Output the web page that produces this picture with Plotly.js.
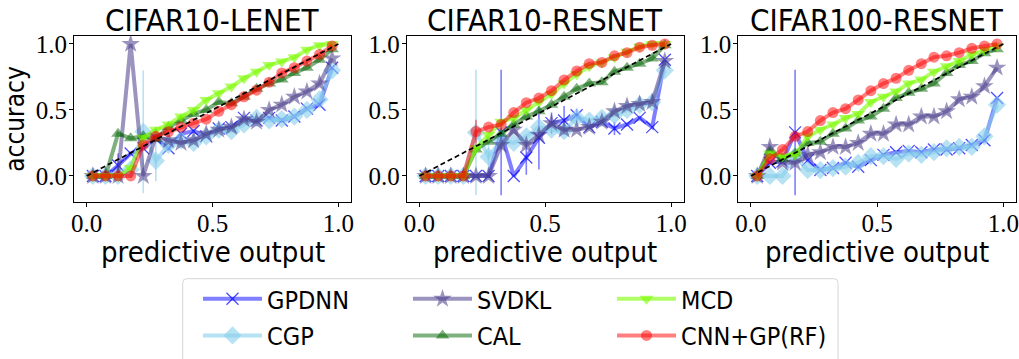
<!DOCTYPE html>
<html>
<head>
<meta charset="utf-8">
<script src="https://cdn.plot.ly/plotly-3.0.1.min.js"></script>
<style>html,body{margin:0;padding:0;background:#fff;}#chart{width:1019px;height:359px;}</style>
</head>
<body>
<div id="chart"></div>
<script>
// ---------- data ----------
var binCenters = [0.025,0.075,0.125,0.175,0.225,0.275,0.325,0.375,0.425,0.475,0.525,0.575,0.625,0.675,0.725,0.775,0.825,0.875,0.925,0.975];
var panelTitles = ['CIFAR10-LENET','CIFAR10-RESNET','CIFAR100-RESNET'];
var seriesNames = ['GPDNN','CGP','SVDKL','CAL','MCD','CNN+GP(RF)'];
var xAxisTitle = 'predictive output';
var yAxisTitle = 'accuracy';
var tickVals = [0, 0.5, 1.0];
var tickText = ['0.0','0.5','1.0'];
var diagX = [0, 1];
var diagY = [0, 1];

// CIFAR10-LENET
var lenetGPDNN    = [0,0,0.08,0.17,0.21,0.285,0.21,0.32,0.34,0.30,0.36,0.37,0.44,0.42,0.44,0.42,0.45,0.51,0.54,0.82];
var lenetGPDNNerr = [0,0,0.09,0,0,0,0,0,0,0,0,0,0,0,0,0,0,0,0,0];
var lenetCGP      = [0,0,0,0.05,0.335,0.115,0.235,0.27,0.25,0.30,0.35,0.34,0.39,0.44,0.42,0.43,0.45,0.50,0.58,0.80];
var lenetCGPerr   = [0,0,0,0,0.465,0.155,0,0,0,0,0,0,0,0,0,0,0,0,0,0];
var lenetSVDKL    = [0,0,0,1.0,0,0.30,0.27,0.25,0.27,0.32,0.35,0.37,0.43,0.41,0.50,0.54,0.60,0.64,0.70,0.89];
var lenetCAL      = [0,0,0.32,0.285,0.30,0.28,0.37,0.42,0.47,0.50,0.56,0.55,0.60,0.66,0.70,0.73,0.78,0.82,0.88,0.96];
var lenetMCD      = [0,0,0,0.06,0.29,0.35,0.39,0.45,0.50,0.576,0.626,0.677,0.74,0.79,0.84,0.866,0.90,0.955,0.99,1.0];
var lenetRF       = [0,0,0,0,0.235,0.30,0.335,0.37,0.40,0.43,0.49,0.54,0.60,0.65,0.71,0.78,0.82,0.87,0.92,0.985];

// CIFAR10-RESNET
var c10GPDNN    = [0,0,0,0,0,0,0.33,0,0.14,0.29,0.40,0.42,0.46,0.37,0.41,0.36,0.39,0.44,0.37,0.88];
var c10GPDNNerr = [0,0,0,0,0,0,0.475,0,0.13,0.24,0.08,0.11,0.05,0,0,0.05,0,0,0,0];
var c10CGP      = [0,0,0,0,0.33,0.146,0.27,0.25,0.30,0.37,0.35,0.34,0.44,0.42,0.44,0.46,0.50,0.54,0.56,0.80];
var c10CGPerr   = [0,0,0,0,0.475,0.1,0,0,0,0,0,0,0,0,0,0,0,0,0,0];
var c10SVDKL    = [0,0,0,0,0,0,0.235,0.35,0.235,0.31,0.40,0.35,0.35,0.37,0.41,0.49,0.53,0.545,0.56,0.87];
var c10CAL      = [0,0,0,0,0.20,0.26,0.32,0.39,0.45,0.49,0.54,0.60,0.66,0.70,0.71,0.79,0.82,0.85,0.89,0.99];
var c10MCD      = [0,0,0,0,0.21,0.31,0.41,0.44,0.50,0.56,0.62,0.70,0.77,0.83,0.86,0.90,0.94,0.98,1.0,1.0];
var c10RF       = [0,0,0,0,0.336,0.37,0.39,0.48,0.555,0.59,0.646,0.727,0.795,0.85,0.86,0.91,0.934,0.975,0.99,1.0];
var c10RFerr    = [0,0,0,0,0.09,0,0,0,0,0,0,0,0,0,0,0,0,0,0,0];

// CIFAR100-RESNET
var c100GPDNN    = [0,0.10,0.11,0.33,0.12,0.045,0.06,0.10,0.07,0.12,0.16,0.18,0.19,0.18,0.20,0.20,0.21,0.235,0.27,0.59];
var c100GPDNNerr = [0,0,0,0.475,0,0,0,0,0,0,0,0,0,0,0,0,0,0,0,0];
var c100CGP      = [0,0,0,0.15,0.045,0.045,0.06,0.07,0.10,0.15,0.15,0.13,0.17,0.16,0.18,0.21,0.22,0.22,0.30,0.54];
var c100SVDKL    = [0,0.22,0.10,0.10,0.16,0.18,0.22,0.22,0.25,0.32,0.32,0.39,0.39,0.45,0.45,0.49,0.58,0.60,0.68,0.82];
var c100CAL      = [0,0.18,0.13,0.17,0.25,0.26,0.32,0.36,0.42,0.45,0.51,0.59,0.63,0.66,0.70,0.78,0.84,0.87,0.93,0.96];
var c100MCD      = [0,0.17,0.15,0.16,0.30,0.35,0.39,0.44,0.47,0.56,0.60,0.64,0.70,0.73,0.79,0.83,0.87,0.92,0.955,0.985];
var c100RF       = [0,0.13,0.20,0.30,0.336,0.42,0.48,0.51,0.576,0.646,0.70,0.74,0.80,0.85,0.90,0.91,0.934,0.967,0.985,1.0];

var zeros = [0,0,0,0,0,0,0,0,0,0,0,0,0,0,0,0,0,0,0,0];

var panels = [
  {GPDNN:[lenetGPDNN,lenetGPDNNerr], CGP:[lenetCGP,lenetCGPerr], SVDKL:[lenetSVDKL,zeros], CAL:[lenetCAL,zeros], MCD:[lenetMCD,zeros], 'CNN+GP(RF)':[lenetRF,zeros]},
  {GPDNN:[c10GPDNN,c10GPDNNerr], CGP:[c10CGP,c10CGPerr], SVDKL:[c10SVDKL,zeros], CAL:[c10CAL,zeros], MCD:[c10MCD,zeros], 'CNN+GP(RF)':[c10RF,c10RFerr]},
  {GPDNN:[c100GPDNN,c100GPDNNerr], CGP:[c100CGP,zeros], SVDKL:[c100SVDKL,zeros], CAL:[c100CAL,zeros], MCD:[c100MCD,zeros], 'CNN+GP(RF)':[c100RF,zeros]}
];

// ---------- styles ----------
var styles = {
  'GPDNN':      {color:'rgba(0,0,255,0.5)',     symbol:'x-thin', size:12, legend:'legend'},
  'CGP':        {color:'rgba(135,206,235,0.6)', symbol:'diamond', size:14, legend:'legend'},
  'SVDKL':      {color:'rgba(72,61,139,0.55)',  symbol:'star', size:14, legend:'legend2'},
  'CAL':        {color:'rgba(0,100,0,0.5)',     symbol:'triangle-up', size:12, legend:'legend2'},
  'MCD':        {color:'rgba(124,252,0,0.6)',   symbol:'triangle-down', size:12, legend:'legend3'},
  'CNN+GP(RF)': {color:'rgba(255,0,0,0.5)',     symbol:'circle', size:11, legend:'legend3'}
};

var SANS = 'DejaVu Sans Condensed, DejaVu Sans, sans-serif';
var SERIF = 'Liberation Serif, DejaVu Serif, serif';

var traces = [];
panels.forEach(function(p, i) {
  var xa = i === 0 ? 'x' : 'x' + (i + 1);
  var ya = i === 0 ? 'y' : 'y' + (i + 1);
  seriesNames.forEach(function(name) {
    var s = styles[name];
    var isX = s.symbol === 'x-thin';
    traces.push({
      type:'scatter', mode:'lines+markers', name:name,
      x: binCenters, y: p[name][0],
      xaxis: xa, yaxis: ya,
      legend: s.legend, showlegend: i === 0, legendgroup: name,
      line:{color:s.color, width:4},
      marker:{symbol:s.symbol, size:s.size, color:s.color,
              line:{width: isX ? 1.3 : 0, color: isX ? 'rgba(0,0,255,0.7)' : s.color}},
      error_y:{type:'data', array:p[name][1], visible:true, color:s.color, thickness:1.6, width:0},
      hoverinfo:'x+y'
    });
  });
  traces.push({
    type:'scatter', mode:'lines', x:diagX, y:diagY, xaxis:xa, yaxis:ya,
    showlegend:false, line:{color:'black', width:1.7, dash:'5px,3px'}, hoverinfo:'skip'
  });
});

var W = 1019, H = 359;
var xDomains = [[74/W, 351/W], [406.7/W, 683.7/W], [738.3/W, 1016/W]];
var yDomain = [1 - 202/H, 1 - 36/H];

function xaxisDef(i) {
  return {
    domain: xDomains[i], anchor: i === 0 ? 'y' : 'y' + (i + 1),
    range:[-0.05, 1.05], tickvals: tickVals, ticktext: tickText,
    ticks:'outside', ticklen:4, tickwidth:1, tickcolor:'#000',
    showline:true, linecolor:'#000', linewidth:1, mirror:true,
    showgrid:false, zeroline:false, ticklabeloverflow:'allow',
    ticklabelstandoff:-5,
    tickfont:{family:SERIF, size:25, color:'#000'}
  };
}
function yaxisDef(i) {
  var d = {
    domain: yDomain, anchor: i === 0 ? 'x' : 'x' + (i + 1),
    range:[-0.197, 1.06], tickvals: tickVals, ticktext: tickText,
    ticks:'outside', ticklen:4, tickwidth:1, tickcolor:'#000',
    showline:true, linecolor:'#000', linewidth:1, mirror:true,
    showgrid:false, zeroline:false, ticklabeloverflow:'allow',
    ticklabelstandoff:-3,
    tickfont:{family:SERIF, size:25, color:'#000'}
  };
  if (i === 0) d.title = {text:yAxisTitle, font:{family:SANS, size:26, color:'#000'}, standoff:3};
  return d;
}

var annotations = [];
panelTitles.forEach(function(t, i) {
  var cx = (xDomains[i][0] + xDomains[i][1]) / 2;
  annotations.push({text:t, xref:'paper', yref:'paper', x:cx, y:1 - 20/H,
          xanchor:'center', yanchor:'middle', showarrow:false,
          font:{family:SANS, size:31, color:'#000'}});
  annotations.push({text:xAxisTitle, xref:'paper', yref:'paper', x:cx, y:1 - 251.5/H,
          xanchor:'center', yanchor:'middle', showarrow:false,
          font:{family:SANS, size:29, color:'#000'}});
});

// legend frame (rounded)
var bx0 = 182.7/W, bx1 = 838/W, byT = 1 - 278.7/H, byB = -0.1, rx = 4/W, ry = 4/H;
var framePath = 'M' + (bx0+rx) + ',' + byT + ' L' + (bx1-rx) + ',' + byT +
  ' Q' + bx1 + ',' + byT + ' ' + bx1 + ',' + (byT-ry) + ' L' + bx1 + ',' + byB +
  ' L' + bx0 + ',' + byB + ' L' + bx0 + ',' + (byT-ry) +
  ' Q' + bx0 + ',' + byT + ' ' + (bx0+rx) + ',' + byT + ' Z';

function legendDef(xpx) {
  return {x: xpx / W, xanchor:'left', y: 1 - 276/H, yanchor:'top', orientation:'v',
          bgcolor:'rgba(0,0,0,0)', borderwidth:0, itemwidth:59, tracegroupgap:1.2,
          font:{family:SANS, size:25, color:'#000'}};
}

var layout = {
  width: W, height: H, margin:{l:0, r:0, t:0, b:0},
  paper_bgcolor:'#fff', plot_bgcolor:'#fff', showlegend:true,
  xaxis: xaxisDef(0), xaxis2: xaxisDef(1), xaxis3: xaxisDef(2),
  yaxis: yaxisDef(0), yaxis2: yaxisDef(1), yaxis3: yaxisDef(2),
  annotations: annotations,
  shapes:[{type:'path', xref:'paper', yref:'paper', path: framePath,
           line:{color:'#d6d6d6', width:1}, fillcolor:'rgba(255,255,255,0.8)', layer:'below'}],
  legend: legendDef(198), legend2: legendDef(408), legend3: legendDef(612)
};

Plotly.newPlot('chart', traces, layout, {displayModeBar:false, staticPlot:true});
</script>
</body>
</html>
